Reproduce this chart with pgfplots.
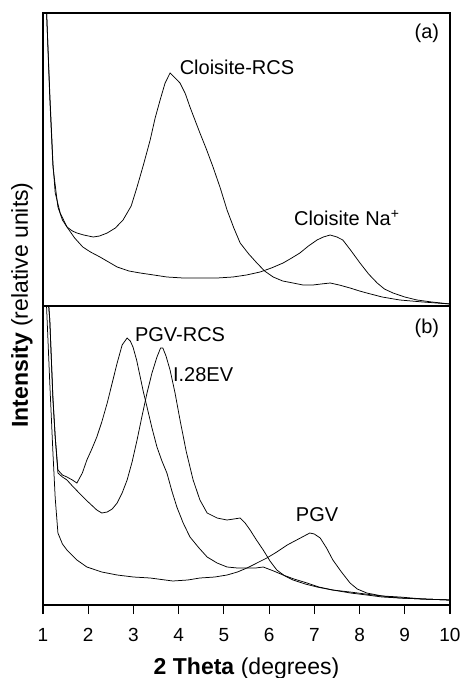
\documentclass[border=0pt]{standalone}
\usepackage{fontspec}
\setmainfont{Liberation Sans}
\usepackage{pgfplots}
\pgfplotsset{compat=1.18}
\begin{document}
\begin{tikzpicture}
\useasboundingbox (-43bp,-372bp) rectangle (420bp,306bp);
\pgfplotsset{
  panel/.style={
    scale only axis, width=407bp, xmin=1, xmax=10,
    ytick=\empty, axis line style={line width=1.2bp},
    clip=true,
  },
  curve/.style={black, line width=0.75bp, mark=none},
}
% ---------- panel (a) ----------
\begin{axis}[panel, at={(0bp,0bp)}, anchor=south west, height=293bp,
  ymin=372, ymax=665, xtick=\empty]
\addplot[curve] coordinates {(1.02,731)(1.08,665)(1.15,580)(1.22,511)(1.33,471)(1.43,458)(1.53,451)(1.65,447)(1.75,445)(1.9,443)(2.11,441)(2.25,442)(2.42,445)(2.6,450)(2.77,458)(2.95,472)(3.08,491)(3.22,513)(3.37,538)(3.48,560)(3.59,578)(3.7,595)(3.81,605)(3.92,600)(4.03,595)(4.15,584)(4.25,571)(4.36,558)(4.47,545)(4.62,528)(4.76,511)(4.92,490)(5.07,468)(5.22,450)(5.36,435)(5.55,424)(5.73,415)(5.9,407)(6.09,401)(6.3,397)(6.53,395)(6.75,393)(6.97,393)(7.15,394)(7.35,395)(7.55,393)(7.79,390)(8.0,387)(8.16,385)(8.5,381)(8.89,378)(9.4,376)(10,374)};
\addplot[curve] coordinates {(1.02,731)(1.08,665)(1.15,585)(1.22,515)(1.27,485)(1.38,465)(1.53,451)(1.7,440)(1.88,431)(2.05,426)(2.26,421)(2.45,416)(2.64,411)(2.9,407)(3.15,405)(3.45,403)(3.74,401)(4.1,400)(4.47,400)(4.85,400)(5.20,401)(5.5,403)(5.80,406)(6.05,410)(6.31,415)(6.5,420)(6.68,425)(6.87,432)(7.06,438)(7.2,441)(7.35,443)(7.5,441)(7.63,438)(7.8,428)(8.01,415)(8.2,404)(8.39,395)(8.55,389)(8.74,385)(9.0,381)(9.27,378)(9.6,376)(10,374)};
\node[font=\fontsize{20bp}{24bp}\selectfont] at (axis cs:9.49,645) {(a)};
\node[font=\fontsize{20bp}{24bp}\selectfont] at (axis cs:5.29,611) {Cloisite-RCS};
\node[font=\fontsize{20bp}{24bp}\selectfont] at (axis cs:7.72,460) {Cloisite Na\textsuperscript{+}};
\end{axis}
% ---------- panel (b) ----------
\begin{axis}[panel, at={(0bp,0bp)}, anchor=north west, height=299bp,
  ymin=73, ymax=372,
  xtick={1,2,...,10}, xtick pos=left, xtick align=outside,
  major tick length=9bp,
  xtick style={draw=black, line width=1.2bp},
  xticklabel style={font=\fontsize{19bp}{22bp}\selectfont, yshift=-11bp},
  /pgf/number format/assume math mode=true,
  xlabel={\textbf{2 Theta} (degrees)},
  xlabel style={font=\fontsize{23bp}{27bp}\selectfont, yshift=-9bp},
]
\addplot[curve] coordinates {(1.02,420)(1.08,400)(1.15,358)(1.22,280)(1.27,241)(1.33,208)(1.43,203)(1.53,201)(1.65,198)(1.75,195)(1.87,205)(1.97,218)(2.08,229)(2.19,241)(2.3,256)(2.42,275)(2.53,295)(2.64,315)(2.75,333)(2.86,340)(2.93,337)(2.99,331)(3.07,318)(3.15,301)(3.22,286)(3.30,271)(3.41,250)(3.52,231)(3.63,217)(3.74,205)(3.85,187)(3.96,171)(4.1,155)(4.25,141)(4.45,130)(4.63,121)(4.85,115)(5.07,111)(5.3,110)(5.51,110)(5.7,110)(5.87,111)(6.1,107)(6.31,103)(6.55,99)(6.84,95)(7.1,91)(7.41,88)(7.8,85)(8.16,83)(8.5,81)(8.89,80)(9.4,79)(10,78)};
\addplot[curve] coordinates {(1.02,420)(1.08,400)(1.15,358)(1.22,278)(1.27,241)(1.33,205)(1.43,201)(1.53,198)(1.65,192)(1.80,185)(2.0,176)(2.19,168)(2.3,165)(2.42,166)(2.53,169)(2.64,175)(2.75,185)(2.86,198)(2.97,216)(3.08,238)(3.19,262)(3.30,285)(3.41,305)(3.52,321)(3.6,330)(3.65,330)(3.72,322)(3.81,308)(3.92,285)(4.03,258)(4.17,226)(4.32,198)(4.47,178)(4.63,165)(4.85,160)(5.07,158)(5.22,159)(5.36,160)(5.47,155)(5.58,148)(5.72,138)(5.87,128)(6.02,117)(6.17,108)(6.35,102)(6.53,98)(6.8,94)(7.06,91)(7.4,88)(7.79,86)(8.3,83)(8.89,80)(9.4,79)(10,78)};
\addplot[curve] coordinates {(1.02,420)(1.08,370)(1.15,295)(1.22,225)(1.27,180)(1.33,145)(1.43,134)(1.53,128)(1.75,118)(1.97,111)(2.3,106)(2.64,103)(3.0,101)(3.37,100)(3.87,97)(4.2,98)(4.47,100)(4.8,101)(5.07,103)(5.3,106)(5.51,110)(5.73,115)(5.95,120)(6.17,126)(6.40,133)(6.65,139)(6.90,145)(7.0,144)(7.13,140)(7.27,130)(7.41,118)(7.6,106)(7.79,95)(7.95,89)(8.16,85)(8.5,82)(8.89,81)(9.4,79)(10,78)};
\node[font=\fontsize{20bp}{24bp}\selectfont] at (axis cs:9.49,350) {(b)};
\node[font=\fontsize{20bp}{24bp}\selectfont] at (axis cs:4.03,343) {PGV-RCS};
\node[font=\fontsize{20bp}{24bp}\selectfont] at (axis cs:4.54,303) {I.28EV};
\node[font=\fontsize{20bp}{24bp}\selectfont] at (axis cs:7.06,163) {PGV};
\end{axis}
\node[rotate=90, font=\fontsize{23bp}{27bp}\selectfont] at (-21bp,1bp) {\textbf{Intensity} (relative units)};
\end{tikzpicture}
\end{document}
